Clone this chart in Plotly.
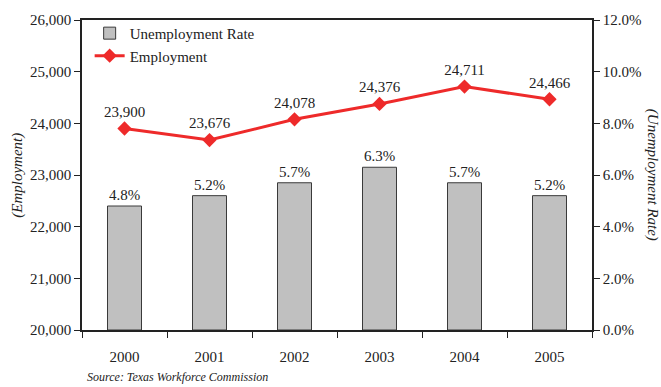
import plotly.graph_objects as go

years = ["2000", "2001", "2002", "2003", "2004", "2005"]
employment = [23900, 23676, 24078, 24376, 24711, 24466]
unemployment_rate = [4.8, 5.2, 5.7, 6.3, 5.7, 5.2]

FONT = "Liberation Serif, Times New Roman, serif"
RED = "#EE2A2A"

fig = go.Figure()

fig.add_trace(go.Bar(
    x=years, y=unemployment_rate, name="Unemployment Rate", yaxis="y2",
    marker=dict(color="#C0C0C0", line=dict(color="#3A3A3A", width=1)),
    width=0.4,
    text=[f"{v:.1f}%" for v in unemployment_rate],
    textposition="outside", cliponaxis=False,
    textfont=dict(family=FONT, size=15, color="#222"),
))

fig.add_trace(go.Scatter(
    x=years, y=employment, name="Employment", yaxis="y",
    mode="lines+markers+text",
    line=dict(color=RED, width=3),
    marker=dict(symbol="diamond", size=11, color=RED),
    text=[f"{v:,}" for v in employment],
    textposition="top center",
    textfont=dict(family=FONT, size=15, color="#222"),
))

fig.update_layout(
    width=661, height=387,
    margin=dict(l=82, r=69, t=17, b=57),
    paper_bgcolor="white", plot_bgcolor="white",
    font=dict(family=FONT, size=15, color="#222"),
    showlegend=True,
    legend=dict(x=0.015, y=1.01, xanchor="left", yanchor="top",
                bgcolor="rgba(0,0,0,0)", font=dict(family=FONT, size=15),
                itemwidth=30),
    bargap=0.6,
    xaxis=dict(
        type="category", showline=True, linecolor="#222", linewidth=1.5,
        mirror=True, ticks="outside", tickson="boundaries", ticklen=6,
        tickcolor="#222", showgrid=False, tickfont=dict(size=15),
        ticklabelstandoff=12, domain=[0, 1],
    ),
    yaxis=dict(
        range=[20000, 26000], dtick=1000, tickformat=",",
        showline=True, linecolor="#222", linewidth=1.5, ticks="outside",
        ticklen=6, tickcolor="#222", showgrid=False, zeroline=False,
        tickfont=dict(size=15),
    ),
    yaxis2=dict(
        range=[0, 12], dtick=2, tickformat=".1f", ticksuffix="%",
        overlaying="y", side="right",
        showline=True, linecolor="#222", linewidth=1.5, ticks="outside",
        ticklen=6, tickcolor="#222", showgrid=False, zeroline=False,
        tickfont=dict(size=15),
    ),
    annotations=[
        dict(text="<i>(Employment)</i>", xref="paper", yref="paper",
             x=-0.128, y=0.5, textangle=-90, showarrow=False,
             font=dict(family=FONT, size=15), xanchor="center", yanchor="middle"),
        dict(text="<i>(Unemployment Rate)</i>", xref="paper", yref="paper",
             x=1.12, y=0.5, textangle=90, showarrow=False,
             font=dict(family=FONT, size=15), xanchor="center", yanchor="middle"),
        dict(text="<i>Source: Texas Workforce Commission</i>", xref="paper", yref="paper",
             x=0.006, y=-0.153, xanchor="left", yanchor="middle", showarrow=False,
             font=dict(family=FONT, size=12)),
    ],
)

fig.write_html("out.html")
